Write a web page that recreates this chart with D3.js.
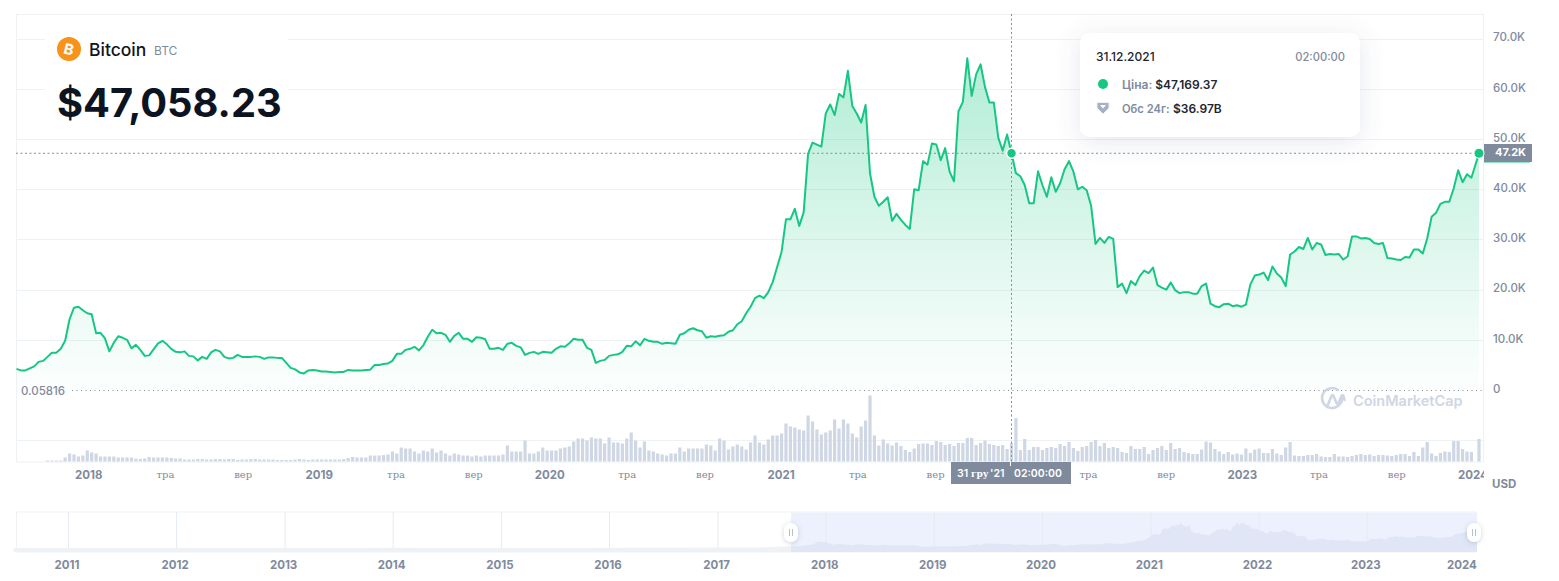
<!DOCTYPE html>
<html><head><meta charset="utf-8">
<script src="https://cdn.jsdelivr.net/npm/d3@7"></script>
<style>html,body{margin:0;padding:0;background:#fff}svg{display:block}text{font-family:Inter,"Noto Sans",sans-serif}</style>
</head><body><svg id="c" width="1559" height="581"></svg>
<script>
// weekly closing price, thousands of USD
const priceK = [
4.2,3.9,3.9,4.3,4.7,5.6,5.8,6.6,7.4,7.4,8.2,9.8,14.1,16.4,16.6,15.9,15.3,15.1,11.3,11.4,10.3,7.7,9.4,10.7,10.4,10.0,8.3,9.0,8.0,6.8,6.9,8.1,9.3,9.8,9.1,8.2,7.6,7.5,7.7,6.8,6.7,5.9,6.6,6.2,7.5,8.0,7.7,6.6,6.3,6.4,7.0,6.6,6.6,6.6,6.7,6.6,6.2,6.5,6.5,6.4,6.4,5.4,4.4,4.1,3.5,3.3,3.9,4.0,3.9,3.7,3.7,3.6,3.5,3.6,3.6,4.0,3.9,3.9,3.9,4.0,4.05,5.0,5.0,5.2,5.3,5.8,7.2,7.2,8.0,
8.2,8.6,7.9,8.9,10.6,12.0,11.3,11.4,11.0,9.6,10.8,11.4,10.2,10.2,9.6,10.5,10.4,10.1,8.2,8.2,8.4,8.0,9.2,9.4,8.8,8.5,7.0,7.4,7.6,7.2,7.6,7.5,7.4,8.2,8.7,8.6,9.3,10.2,10.0,10.0,8.4,8.0,5.4,5.8,6.0,6.8,7.0,7.1,7.6,8.8,8.7,9.7,8.9,10.2,9.8,9.6,9.6,9.2,9.4,9.3,9.2,11.0,11.3,12.0,12.3,11.9,11.7,10.4,10.7,10.6,10.8,10.9,11.6,11.9,13.1,13.7,15.3,16.6,18.3,18.8,18.3,19.5,
21.5,24.5,27.5,
34.0,34.0,36.1,32.7,35.4,47.1,49.3,48.9,48.5,55.1,56.9,54.8,59.0,58.3,63.6,56.6,55.1,53.3,56.8,43.2,38.5,36.7,37.5,38.4,33.7,35.1,33.9,32.9,32.1,40.0,39.8,45.6,44.9,49.1,48.9,45.8,48.2,43.5,41.6,55.5,57.4,66.1,58.6,62.9,64.9,60.4,57.3,57.3,50.3,47.7,50.9,47.17,
43.2,42.6,40.8,37.2,37.2,43.6,40.8,38.5,42.4,39.5,41.2,
44.0,45.6,43.5,40.0,40.5,39.8,36.7,29.1,30.3,29.3,30.5,30.1,20.5,21.2,19.3,21.7,20.9,22.7,23.8,23.3,24.4,20.9,20.4,20.0,21.4,19.9,19.3,19.5,19.5,19.2,19.2,20.7,21.2,17.2,16.7,16.5,17.1,17.2,16.7,16.9,16.6,17.0,21.0,22.8,23.0,23.4,21.9,24.6,23.2,22.4,20.7,27.0,27.6,28.5,28.1,30.3,28.0,29.3,29.0,26.9,27.1,27.0,27.1,26.0,26.6,30.6,30.6,30.2,30.3,30.1,29.3,29.1,29.3,26.3,26.2,26.0,25.9,26.5,26.4,28.0,28.0,27.2,30.2,34.5,35.3,37.1,37.5,37.5,40.2,43.8,41.4,43.0,42.3,47.17];
// weekly 24h volume, billions of USD
const volumeB = [
0,0,0,0,0,0,0,2,2,2,2,
8,16,14,10,12,22,18,16,10,10,10,10,8,8,8,8,6,5,6,9,8,8,8,8,7,6,6,4,4,4,5,5,4,4,5,5,4,5,5,3,
4,4,5,5,4,4,4,4,3,3,3,3,4,5,4,3,4,4,4,4,4,4,4,5,
7,9,8,8,8,12,12,12,13,14,20,16,
28,26,26,20,16,22,20,26,18,22,16,12,16,14,12,12,10,12,10,12,12,12,12,14,32,20,20,20,42,16,16,20,28,22,22,22,26,28,30,40,46,46,42,48,46,46,36,48,38,38,36,46,58,42,28,40,22,20,16,14,12,16,16,28,20,26,26,26,26,34,32,22,46,42,24,30,34,30,24,38,52,38,34,44,52,52,
56,76,70,68,64,62,92,80,64,54,58,62,84,66,84,76,56,48,70,82,132,52,32,44,36,32,38,
31,23,19,26,35,36,36,33,41,39,33,35,31,37,37,47,47,33,37,42,35,33,31,33,25,37,87,23,45,23,29,29,23,27,29,27,35,31,39,27,21,29,31,39,43,31,37,27,29,27,19,17,31,25,25,29,15,23,27,31,23,37,25,27,19,17,15,15,
24,40,38,25,20,15,19,14,16,14,26,
17,24,26,17,17,25,16,13,28,39,12,11,11,13,13,15,10,9,9,15,10,10,9,11,13,15,13,14,11,13,13,12,11,13,15,15,11,19,11,28,39,16,11,17,20,19,41,41,25,20,19,45];
const firstWeek = new Date(2017,8,8), lastPoint = new Date(2024,0,10), hoverDate = new Date(2021,11,31);
const priceTicks = [0,10,20,30,40,50,60,70];
// the 2022 label sits behind the crosshair date badge in the reference
const yearTicks = [2018,2019,2020,2021,2023,2024];
const subTicks = [[2018,4,'тра'],[2018,8,'вер'],[2019,4,'тра'],[2019,8,'вер'],[2020,4,'тра'],[2020,8,'вер'],[2021,4,'тра'],[2021,8,'вер'],[2022,4,'тра'],[2022,8,'вер'],[2023,4,'тра'],[2023,8,'вер']];
const navYears = [2011,2012,2013,2014,2015,2016,2017,2018,2019,2020,2021,2022,2023,2024];
// overview strip before the zoomed window: year, price in thousands
const earlyYears = [2010.5,2011,2012,2013,2014,2015,2016,2017,2017.3,2017.5,2017.68];
const earlyPriceK = [0,0,0,0.01,0.8,0.3,0.4,1,1.2,2.5,4.2];

const GREEN='#16c784', GREY='#808a9d', INK='#0d1421', LINE='#eff2f5';
const svg=d3.select('#c');
const defs=svg.append('defs');
const grad=defs.append('linearGradient').attr('id','g').attr('gradientUnits','userSpaceOnUse').attr('x1',0).attr('x2',0).attr('y1',60).attr('y2',390);
grad.append('stop').attr('offset',0).attr('stop-color',GREEN).attr('stop-opacity',.33);
grad.append('stop').attr('offset',.6).attr('stop-color',GREEN).attr('stop-opacity',.13);
grad.append('stop').attr('offset',1).attr('stop-color',GREEN).attr('stop-opacity',.01);
const f=defs.append('filter').attr('id','s').attr('x','-20%').attr('y','-30%').attr('width','140%').attr('height','170%');
f.append('feDropShadow').attr('dx',0).attr('dy',4).attr('stdDeviation',12).attr('flood-color','#586b8c').attr('flood-opacity',.16);
const f2=defs.append('filter').attr('id','s2').attr('x','-60%').attr('y','-40%').attr('width','220%').attr('height','180%');
f2.append('feDropShadow').attr('dx',0).attr('dy',1).attr('stdDeviation',2.5).attr('flood-color','#586b8c').attr('flood-opacity',.3);
defs.append('clipPath').attr('id','plot').append('rect').attr('x',16).attr('y',14).attr('width',1468).attr('height',480);

const dates=priceK.map((_,i)=> i===priceK.length-1 ? lastPoint : d3.timeDay.offset(firstWeek,7*i));
const x=d3.scaleTime().domain([firstWeek,lastPoint]).range([16.5,1479]);
const y=d3.scaleLinear().domain([0,70]).range([390,38.7]);
const yV=d3.scaleLinear().domain([0,132]).range([461.5,395.5]);

// frame and grid
const frame=svg.append('g').attr('stroke',LINE).attr('fill','none');
frame.append('path').attr('d','M16.5 462V14.5H1483.5V462H16.5').attr('stroke-width',1.2);
svg.append('g').selectAll('line').data(priceTicks.slice(1)).join('line')
 .attr('x1',16).attr('x2',1483).attr('y1',d=>Math.round(y(d))+.5).attr('y2',d=>Math.round(y(d))+.5).attr('stroke',LINE);
svg.append('line').attr('x1',16).attr('x2',1483).attr('y1',440.5).attr('y2',440.5).attr('stroke',LINE);

// header box interrupts the gridlines
svg.append('rect').attr('x',45).attr('y',30).attr('width',243).attr('height',96).attr('fill','#fff');

// volume
svg.append('g').attr('clip-path','url(#plot)').selectAll('rect').data(volumeB).join('rect')
 .attr('x',(d,i)=>x(dates[i])-1.6).attr('width',3.2).attr('y',d=>yV(d)).attr('height',d=>yV(0)-yV(d)).attr('fill','#cfd6e4');

// price
const area=d3.area().x((d,i)=>x(dates[i])).y0(y(0)).y1(d=>y(d));
const line=d3.line().x((d,i)=>x(dates[i])).y(d=>y(d));
svg.append('path').attr('d',area(priceK)).attr('fill','url(#g)');
svg.append('path').attr('d',line(priceK)).attr('fill','none').attr('stroke',GREEN).attr('stroke-width',2).attr('stroke-linejoin','round');

// zero line and open price
svg.append('line').attr('x1',72).attr('x2',1483).attr('y1',390.5).attr('y2',390.5).attr('stroke','#808a9d').attr('stroke-dasharray','1 3.5');
svg.append('text').attr('x',21).attr('y',395).attr('font-size',11.5).attr('fill',GREY).attr('font-weight',500).text('0.05816');

// crosshair
const hv=priceK[dates.findIndex(d=>+d===+hoverDate)];
svg.append('line').attr('x1',x(hoverDate)).attr('x2',x(hoverDate)).attr('y1',14).attr('y2',462).attr('stroke','#858ca2').attr('stroke-dasharray','2 2.5');
svg.append('line').attr('x1',16).attr('x2',1484).attr('y1',y(hv)).attr('y2',y(hv)).attr('stroke','#858ca2').attr('stroke-dasharray','2 2.5');

// y axis
const ax=svg.append('g').attr('transform','translate(1483,-1.5)').call(d3.axisRight(y).tickValues(priceTicks).tickSize(0).tickPadding(10).tickFormat(d=>d===0?'0':d3.format('.1f')(d)+'K'));
ax.select('.domain').remove();
ax.selectAll('text').attr('font-size',11.5).attr('font-weight',500).attr('fill',GREY).style('font-family','Inter');

// price badge
svg.append('rect').attr('x',1484).attr('y',144).attr('width',48).attr('height',18).attr('fill',GREY);
svg.append('rect').attr('x',1484).attr('y',161.5).attr('width',46).attr('height',1).attr('fill',GREEN);
svg.append('text').attr('x',1495).attr('y',156).attr('font-size',11).attr('font-weight',700).attr('fill','#fff').text('47.2K');

// markers
svg.append('circle').attr('cx',x(hoverDate)).attr('cy',y(hv)).attr('r',5).attr('fill',GREEN).attr('stroke','#fff').attr('stroke-width',1.5);
svg.append('circle').attr('cx',x(lastPoint)).attr('cy',y(priceK[priceK.length-1])).attr('r',5).attr('fill',GREEN).attr('stroke','#fff').attr('stroke-width',1);

// x axis
const gx=svg.append('g').attr('clip-path','url(#plot)');
const axYears=gx.append('g').attr('transform','translate(-1,462)').call(d3.axisBottom(x).tickValues(yearTicks.map(v=>new Date(v,0,1))).tickSize(0).tickPadding(9).tickFormat(d3.timeFormat('%Y')));
axYears.select('.domain').remove();
axYears.selectAll('text').attr('font-size',11.5).attr('font-weight',700).attr('fill',GREY).style('font-family','Inter');
const subDates=subTicks.map(t=>new Date(t[0],t[1],1));
const axSub=gx.append('g').attr('transform','translate(0,462)').call(d3.axisBottom(x).tickValues(subDates).tickSize(0).tickPadding(9).tickFormat((d,i)=>subTicks[i][2]));
axSub.select('.domain').remove();
axSub.selectAll('text').attr('font-size',10).attr('fill',GREY).style('font-family','"DejaVu Serif"');
svg.append('text').attr('x',1492).attr('y',488).attr('font-size',11.5).attr('font-weight',700).attr('fill',GREY).text('USD');

// crosshair date badge
svg.append('rect').attr('x',951).attr('y',462).attr('width',120).attr('height',22).attr('fill',GREY);
svg.append('rect').attr('x',1010).attr('y',462).attr('width',1).attr('height',4).attr('fill','#fff');
const dateBadge=svg.append('g').attr('font-size',10.5).attr('font-weight',600).attr('fill','#fff');
dateBadge.append('text').attr('x',957).attr('y',477).text('31');
dateBadge.append('text').attr('x',971).attr('y',477).attr('font-size',9).style('font-family','"DejaVu Serif"').text('гру');
dateBadge.append('text').attr('x',990).attr('y',477).text("'21");
dateBadge.append('text').attr('x',1014).attr('y',477).text('02:00:00');

// watermark
const wm=svg.append('g');
wm.append('path').attr('d','M1342 398a10 10 0 1 1-4.2-8.1M1327 407l4.5-11q1-2 2 0l3 7q1 2 2 0l3-7q1-2 2 0l1 4').attr('fill','none').attr('stroke','#cfd6e4').attr('stroke-width',2.6).attr('stroke-linecap','round');
wm.append('text').attr('x',1353).attr('y',406).attr('font-size',14.5).attr('font-weight',600).attr('fill','#cfd6e4').text('CoinMarketCap');

// header
svg.append('circle').attr('cx',69).attr('cy',49).attr('r',12).attr('fill','#f7931a');
svg.append('text').attr('x',69).attr('y',54.5).attr('text-anchor','middle').attr('font-size',15).attr('font-weight',700).attr('fill','#fff').attr('transform','rotate(14 69 49)').text('B');
svg.append('text').attr('x',89).attr('y',56).attr('font-size',17.5).attr('font-weight',500).attr('fill',INK).text('Bitcoin');
svg.append('text').attr('x',154).attr('y',55).attr('font-size',12).attr('fill',GREY).text('BTC');
svg.append('text').attr('x',57).attr('y',117).attr('font-size',39.8).attr('font-weight',700).attr('fill',INK).text('$47,058.23');

// tooltip
svg.append('rect').attr('x',1080).attr('y',33).attr('width',280).attr('height',104).attr('rx',10).attr('fill','#fff').attr('filter','url(#s)');
svg.append('text').attr('x',1096).attr('y',61).attr('font-size',12).attr('font-weight',500).attr('fill','#222531').text('31.12.2021');
svg.append('text').attr('x',1345).attr('y',61).attr('text-anchor','end').attr('font-size',11.2).attr('font-weight',500).attr('fill',GREY).text('02:00:00');
svg.append('circle').attr('cx',1103).attr('cy',84).attr('r',5).attr('fill',GREEN);
const t1=svg.append('text').attr('x',1122).attr('y',89).attr('font-size',12).attr('font-weight',600);
t1.append('tspan').attr('fill',GREY).text('Ціна: ');
t1.append('tspan').attr('fill','#222531').text('$47,169.37');
svg.append('path').attr('d','M1097 102.500h12v5.500l-6 6l-6-6z').attr('fill','#a6b0c3').attr('stroke','#eff2f5').attr('stroke-width',1);
svg.append('path').attr('d','M1100 105h6l-3 3.500z').attr('fill','#fff');
const t2=svg.append('text').attr('x',1122).attr('y',113).attr('font-size',12).attr('font-weight',600);
t2.append('tspan').attr('fill',GREY).attr('font-size',11.2).text('Обс 24г: ');
t2.append('tspan').attr('fill','#222531').attr('x',1173).text('$36.97B');

// navigator
const nx=d3.scaleTime().domain([new Date(2017,0,1),new Date(2024,0,1)]).range([717,1474.4]);
const ny=d3.scaleLinear().domain([0,66]).range([548,522]);
const yearDate=v=>{const yr=Math.floor(v);return d3.timeDay.offset(new Date(yr,0,1),Math.round((v-yr)*365));};
svg.append('rect').attr('x',16.5).attr('y',512).attr('width',1459).attr('height',40).attr('fill','#fff').attr('stroke',LINE);
svg.append('rect').attr('x',nx(firstWeek)).attr('y',512.5).attr('width',nx(lastPoint)-nx(firstWeek)).attr('height',39.5).attr('fill','#edf1fd');
svg.append('g').selectAll('line').data(navYears.slice(0,-1)).join('line').attr('x1',v=>nx(new Date(v,0,1))+1).attr('x2',v=>nx(new Date(v,0,1))+1).attr('y1',512).attr('y2',552).attr('stroke','#e6eaf2');
const navArea=d3.area().x(d=>nx(d[0])).y0(552).y1(d=>ny(d[1]));
svg.append('path').attr('d',navArea(earlyYears.map((v,i)=>[yearDate(v),earlyPriceK[i]]).concat([[firstWeek,priceK[0]]]))).attr('fill','#eff2f5');
svg.append('path').attr('d',navArea(priceK.map((v,i)=>[dates[i],v]))).attr('fill','#e0e6f5');
const nax=svg.append('g').attr('transform','translate(-1,552)').call(d3.axisBottom(nx).tickValues(navYears.map(v=>new Date(v,0,1))).tickSize(0).tickPadding(9).tickFormat(d3.timeFormat('%Y')));
nax.select('.domain').remove();
nax.selectAll('text').attr('font-size',11.5).attr('font-weight',700).attr('fill',GREY).style('font-family','Inter').attr('dx',(d,i,n)=>i===n.length-1?-12:0);
[firstWeek,lastPoint].forEach((d,k)=>{
  const cx=k?1474:791;
  const h=svg.append('g');
  h.append('rect').attr('x',cx-7).attr('y',523).attr('width',14).attr('height',19).attr('rx',7).attr('fill','#fff').attr('filter','url(#s2)');
  [-1.5,1.5].forEach(o=>h.append('line').attr('x1',cx+o).attr('x2',cx+o).attr('y1',529).attr('y2',536).attr('stroke','#a6b0c3').attr('stroke-width',.8));
});
</script></body></html>
